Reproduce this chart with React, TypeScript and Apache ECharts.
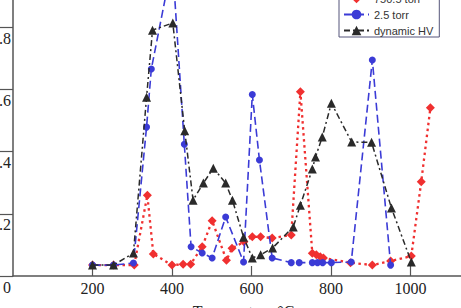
import React, { useEffect, useRef } from "react";
import * as echarts from "echarts";

const redX = [200, 253, 305, 338, 353, 400, 428, 447, 476, 501, 537, 551, 581, 602, 623, 652, 700, 723, 753, 763, 773, 781, 849, 904, 950, 1002, 1027, 1050];
const redY = [0.035, 0.035, 0.035, 0.26, 0.071, 0.035, 0.038, 0.038, 0.094, 0.178, 0.051, 0.089, 0.11, 0.126, 0.126, 0.122, 0.132, 0.593, 0.073, 0.068, 0.062, 0.058, 0.043, 0.035, 0.048, 0.064, 0.303, 0.541];

const blueX = [200, 253, 303, 336, 348, 401, 431, 448, 476, 501, 535, 580, 602, 620, 652, 700, 720, 753, 766, 779, 801, 851, 904, 950];
const blueY = [0.035, 0.035, 0.042, 0.479, 0.666, 1.01, 0.424, 0.094, 0.074, 0.058, 0.19, 0.045, 0.584, 0.373, 0.058, 0.043, 0.043, 0.043, 0.043, 0.043, 0.043, 0.045, 0.695, 0.035];

const blackX = [200, 253, 303, 336, 351, 402, 432, 453, 479, 504, 535, 552, 580, 602, 623, 653, 705, 723, 753, 761, 778, 801, 852, 902, 952, 1002];
const blackY = [0.035, 0.035, 0.074, 0.575, 0.791, 0.814, 0.467, 0.244, 0.299, 0.347, 0.299, 0.244, 0.125, 0.058, 0.068, 0.09, 0.158, 0.228, 0.344, 0.383, 0.447, 0.556, 0.431, 0.43, 0.219, 0.045];

const seriesNames = ["750.5 torr", "2.5 torr", "dynamic HV"];
const xTitle = "Temperatum \u00B0C";

const pairs = (xs: number[], ys: number[]) => xs.map((x, i) => [x, ys[i]]);

export default function App() {
  const ref = useRef<HTMLDivElement>(null);
  useEffect(() => {
    if (!ref.current) return;
    const chart = echarts.init(ref.current, undefined, { renderer: "svg" });
    const serif = "'Liberation Serif', 'DejaVu Serif', serif";
    chart.setOption({
      animation: false,
      backgroundColor: "#ffffff",
      grid: { left: 13, right: -29, top: -97, bottom: 32, containLabel: false, outerBoundsMode: "none" },
      legend: {
        data: seriesNames,
        orient: "vertical",
        left: 339,
        top: -9,
        itemWidth: 25,
        itemHeight: 12,
        itemGap: 5,
        padding: [2, 6, 1, 4],
        borderColor: "#55557a",
        borderWidth: 1,
        backgroundColor: "#ffffff",
        textStyle: { fontSize: 11, fontFamily: "'Liberation Sans', Arial, sans-serif", color: "#333" },
      },
      xAxis: {
        type: "value",
        min: 0,
        max: 1200,
        interval: 200,
        name: xTitle,
        nameLocation: "middle",
        nameGap: 27,
        nameTextStyle: { fontFamily: serif, fontSize: 16, color: "#222", padding: [0, 16, 0, 0] },
        axisLine: { lineStyle: { color: "#555", width: 1.5 } },
        axisTick: { inside: true, length: 10, lineStyle: { color: "#555", width: 1.2 } },
        axisLabel: {
          showMinLabel: false,
          showMaxLabel: false,
          margin: 4,
          fontFamily: serif,
          fontSize: 16,
          color: "#222",
          formatter: (v: number) => String(v),
        },
        splitLine: { show: false },
      },
      yAxis: {
        type: "value",
        min: 0,
        max: 1.2,
        interval: 0.2,
        axisLine: { show: true, lineStyle: { color: "#555", width: 1.5 } },
        axisTick: { show: true, inside: false, length: 16, lineStyle: { color: "#555", width: 1.2 } },
        axisLabel: {
          margin: 2,
          fontFamily: serif,
          fontSize: 16,
          color: "#222",
          verticalAlign: "top",
          padding: [3, 0, 0, 0],
          formatter: (v: number) => (v === 0 ? "0" : String(Math.round(v * 10) / 10)),
        },
        splitLine: { show: false },
      },
      series: [
        {
          name: seriesNames[0],
          type: "line",
          data: pairs(redX, redY),
          symbol: "diamond",
          symbolSize: 9,
          itemStyle: { color: "#f03030" },
          lineStyle: { color: "#f03030", width: 2.3, type: [2.5, 3.5] },
          z: 3,
        },
        {
          name: seriesNames[1],
          type: "line",
          data: pairs(blueX, blueY),
          symbol: "circle",
          symbolSize: 7,
          itemStyle: { color: "#3b3bd6" },
          lineStyle: { color: "#3b3bd6", width: 1.6, type: [8, 4] },
          z: 4,
        },
        {
          name: seriesNames[2],
          type: "line",
          data: pairs(blackX, blackY),
          symbol: "triangle",
          symbolSize: 9,
          itemStyle: { color: "#2a2a2a" },
          lineStyle: { color: "#2a2a2a", width: 1.5, type: [6, 3, 2, 3] },
          z: 5,
        },
      ],
    });
    return () => chart.dispose();
  }, []);
  return <div ref={ref} style={{ width: 461, height: 308, position: "absolute", left: 0, top: 0 }} />;
}
